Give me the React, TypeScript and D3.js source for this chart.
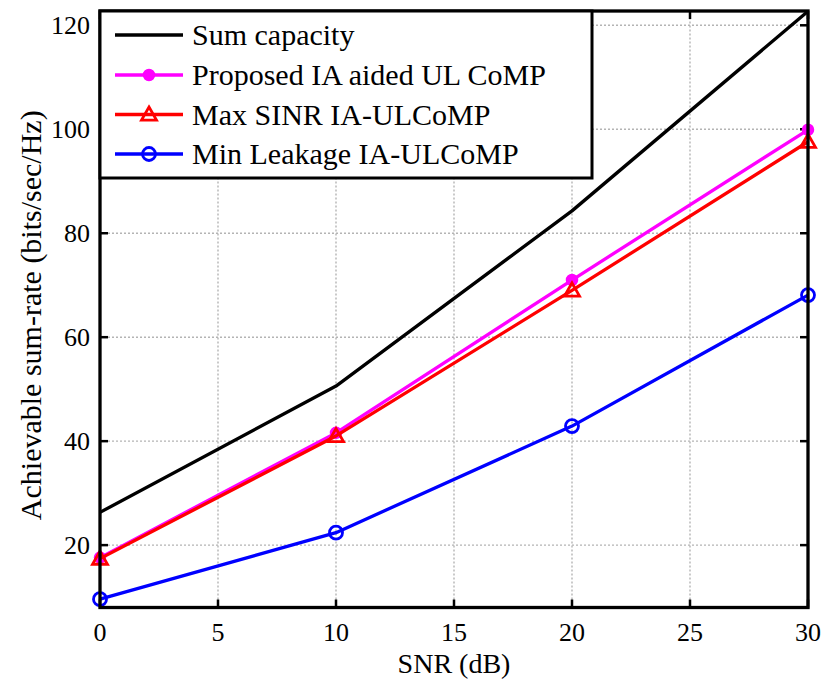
import React from "react";
import * as d3 from "d3";

// SNR points (dB)
const snr = [0, 10, 20, 30];
// Achievable sum-rate (bits/sec/Hz)
const sumCapacity = [26.3, 50.6, 84.3, 122.7];
const proposedIA = [17.6, 41.6, 71.0, 99.9];
const maxSinr = [17.4, 41.0, 69.0, 97.6];
const minLeakage = [9.6, 22.4, 42.9, 68.1];

const xTicks = [0, 5, 10, 15, 20, 25, 30];
const yTicks = [20, 40, 60, 80, 100, 120];

const seriesNames = [
  "Sum capacity",
  "Proposed IA aided UL CoMP",
  "Max SINR IA-ULCoMP",
  "Min Leakage IA-ULCoMP",
];

const W = 825;
const H = 679;
const M = { left: 100, right: 17, top: 11, bottom: 71.5 };
const FONT = "'Liberation Serif', 'Times New Roman', serif";

type Marker = "none" | "dot" | "triangle" | "circle";

export default function App() {
  const x = d3.scaleLinear().domain([0, 30]).range([M.left, W - M.right]);
  const y = d3.scaleLinear().domain([8, 122.75]).range([H - M.bottom, M.top]);

  const line = d3
    .line<[number, number]>()
    .x((d) => x(d[0]))
    .y((d) => y(d[1]));

  const series: { vals: number[]; color: string; marker: Marker }[] = [
    { vals: sumCapacity, color: "#000000", marker: "none" },
    { vals: proposedIA, color: "#ff00ff", marker: "dot" },
    { vals: maxSinr, color: "#ff0000", marker: "triangle" },
    { vals: minLeakage, color: "#0000ff", marker: "circle" },
  ];

  const drawMarker = (m: Marker, cx: number, cy: number, color: string, key: string) => {
    if (m === "dot") return <circle key={key} cx={cx} cy={cy} r={5.5} fill={color} stroke={color} strokeWidth={1.5} />;
    if (m === "circle")
      return <circle key={key} cx={cx} cy={cy} r={6.5} fill="none" stroke={color} strokeWidth={2.8} />;
    if (m === "triangle") {
      const s = 7.5;
      const p = `M${cx},${cy - s} L${cx + s},${cy + s * 0.75} L${cx - s},${cy + s * 0.75} Z`;
      return <path key={key} d={p} fill="none" stroke={color} strokeWidth={2.8} strokeLinejoin="miter" />;
    }
    return null;
  };

  const x0 = M.left;
  const x1 = W - M.right;
  const y0 = H - M.bottom;
  const y1 = M.top;
  const tickLen = 8;

  // legend box
  const lg = { x: x0, y: y1, w: 492, h: 167 };
  const rowY = [35, 75, 114.5, 154];

  return (
    <svg width={W} height={H} style={{ position: "absolute", left: 0, top: 0, background: "#fff" }} fontFamily={FONT}>
      <rect x={0} y={0} width={W} height={H} fill="#fff" />
      {/* grid */}
      <g stroke="#b4b4b4" strokeWidth={1.4} strokeDasharray="2,2">
        {xTicks.slice(1, -1).map((t) => (
          <line key={"gx" + t} x1={x(t)} x2={x(t)} y1={y0} y2={y1} />
        ))}
        {yTicks.map((t) => (
          <line key={"gy" + t} x1={x0} x2={x1} y1={y(t)} y2={y(t)} />
        ))}
      </g>
      {/* ticks */}
      <g stroke="#000" strokeWidth={2.5}>
        {xTicks.map((t) => (
          <g key={"tx" + t}>
            <line x1={x(t)} x2={x(t)} y1={y0} y2={y0 - tickLen} />
            <line x1={x(t)} x2={x(t)} y1={y1} y2={y1 + tickLen} />
          </g>
        ))}
        {yTicks.map((t) => (
          <g key={"ty" + t}>
            <line x1={x0} x2={x0 + tickLen} y1={y(t)} y2={y(t)} />
            <line x1={x1} x2={x1 - tickLen} y1={y(t)} y2={y(t)} />
          </g>
        ))}
      </g>
      {/* series */}
      {series.map((s, i) => (
        <g key={"s" + i}>
          <path
            d={line(snr.map((v, j) => [v, s.vals[j]] as [number, number])) || ""}
            fill="none"
            stroke={s.color}
            strokeWidth={3.3}
            strokeLinejoin="round"
          />
          {snr.map((v, j) => drawMarker(s.marker, x(v), y(s.vals[j]), s.color, `m${i}-${j}`))}
        </g>
      ))}
      {/* frame */}
      <rect x={x0} y={y1} width={x1 - x0} height={y0 - y1} fill="none" stroke="#000" strokeWidth={3.3} />
      {/* tick labels */}
      <g fontSize={26} fill="#000">
        {xTicks.map((t) => (
          <text key={"lx" + t} x={x(t)} y={y0 + 33} textAnchor="middle">
            {t}
          </text>
        ))}
        {yTicks.map((t) => (
          <text key={"ly" + t} x={x0 - 10} y={y(t) + 9} textAnchor="end">
            {t}
          </text>
        ))}
      </g>
      {/* axis labels */}
      <text x={(x0 + x1) / 2} y={673} fontSize={28} textAnchor="middle">
        SNR (dB)
      </text>
      <text
        transform={`translate(41,${(y0 + y1) / 2 + 6}) rotate(-90)`}
        fontSize={30}
        textAnchor="middle"
      >
        Achievable sum-rate (bits/sec/Hz)
      </text>
      {/* legend */}
      <rect x={lg.x} y={lg.y} width={lg.w} height={lg.h} fill="#fff" stroke="#000" strokeWidth={3} />
      {series.map((s, i) => (
        <g key={"lg" + i}>
          <line x1={115} x2={183} y1={rowY[i]} y2={rowY[i]} stroke={s.color} strokeWidth={3.3} />
          {drawMarker(s.marker, 149, rowY[i], s.color, "lm" + i)}
          <text x={192} y={rowY[i] + 10} fontSize={30}>
            {seriesNames[i]}
          </text>
        </g>
      ))}
    </svg>
  );
}
